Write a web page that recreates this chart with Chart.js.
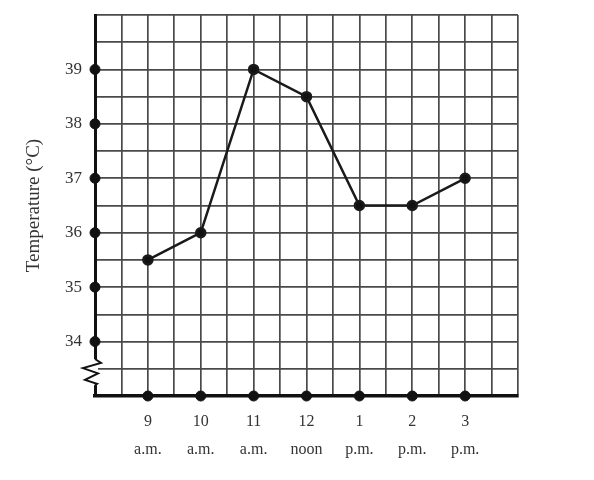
<!DOCTYPE html>
<html>
<head>
<meta charset="utf-8">
<script src="https://cdn.jsdelivr.net/npm/chart.js@4/dist/chart.umd.min.js"></script>
<style>
  html, body { margin: 0; padding: 0; background: #fff; }
  #wrap { width: 594px; height: 480px; }
</style>
</head>
<body>
<div id="wrap"><canvas id="grafica"></canvas></div>
<script>
// horas (24 h) y su etiqueta de dos lineas
const horas = [9, 10, 11, 12, 13, 14, 15];
const etiquetas = [['9', 'a.m.'], ['10', 'a.m.'], ['11', 'a.m.'], ['12', 'noon'], ['1', 'p.m.'], ['2', 'p.m.'], ['3', 'p.m.']];
const temperaturas = [35.5, 36, 39, 38.5, 36.5, 36.5, 37];
const marcasY = [34, 35, 36, 37, 38, 39];

const fuente = '"Liberation Serif", "DejaVu Serif", serif';

// simbolo de corte en el eje y
const corte = {
    id: 'corte',
    afterDatasetsDraw(chart) {
        const ctx = chart.ctx;
        const x0 = chart.scales.x.getPixelForValue(8);
        const y = chart.scales.y;
        const yA = y.getPixelForValue(33.68);
        const yB = y.getPixelForValue(33.2);
        ctx.save();
        ctx.fillStyle = '#fff';
        ctx.fillRect(x0 - 3, yA, 6, yB - yA);
        ctx.strokeStyle = '#111';
        ctx.lineWidth = 2;
        ctx.lineJoin = 'miter';
        ctx.beginPath();
        const h = yB - yA;
        ctx.moveTo(x0, yA);
        ctx.lineTo(x0 + 6, yA + h * 0.15);
        ctx.lineTo(x0 - 12, yA + h * 0.35);
        ctx.lineTo(x0 + 3, yA + h * 0.55);
        ctx.lineTo(x0 - 10, yA + h * 0.8);
        ctx.lineTo(x0 + 2, yA + h * 0.95);
        ctx.lineTo(x0, yB);
        ctx.stroke();
        ctx.restore();
    }
};

const data = {
    datasets: [{
        label: 'Temperatura',
        data: horas.map((h, i) => ({ x: h, y: temperaturas[i] })),
        borderColor: '#1a1a1a',
        backgroundColor: '#111',
        borderWidth: 2.5,
        pointRadius: 4.5,
        pointHoverRadius: 4.5,
        showLine: true,
        tension: 0
    }, {
        label: 'eje y',
        data: marcasY.map(v => ({ x: 8, y: v })),
        backgroundColor: '#111',
        borderColor: '#111',
        pointRadius: 5,
        showLine: false,
        clip: false
    }, {
        label: 'eje x',
        data: horas.map(h => ({ x: h, y: 33 })),
        backgroundColor: '#111',
        borderColor: '#111',
        pointRadius: 5,
        showLine: false,
        clip: false
    }]
};

const config = {
    type: 'scatter',
    data: data,
    plugins: [corte],
    options: {
        responsive: true,
        maintainAspectRatio: false,
        animation: false,
        layout: { padding: { left: 0, top: 15, right: 76, bottom: 0 } },
        plugins: {
            legend: { display: false },
            tooltip: { enabled: false }
        },
        scales: {
            x: {
                type: 'linear',
                min: 8,
                max: 16,
                afterFit: s => { s.height = 84; s.paddingLeft = 0; s.paddingRight = 0; },
                grid: { color: '#4a4a4a', lineWidth: 1.7, drawTicks: false },
                border: { color: '#111', width: 3.5 },
                ticks: {
                    stepSize: 0.5,
                    autoSkip: false,
                    maxRotation: 0,
                    padding: 12,
                    color: '#333',
                    font: { family: fuente, size: 16, lineHeight: 1.75 },
                    callback: v => {
                        const i = horas.indexOf(v);
                        return i >= 0 ? etiquetas[i] : '';
                    }
                }
            },
            y: {
                min: 33,
                max: 40,
                afterFit: s => { s.width = 95; s.paddingTop = 0; s.paddingBottom = 0; },
                grid: { color: '#4a4a4a', lineWidth: 1.7, drawTicks: false },
                border: { color: '#111', width: 3 },
                title: {
                    display: true,
                    text: 'Temperature (°C)',
                    color: '#333',
                    font: { family: fuente, size: 19 },
                    padding: { top: 23, bottom: 0 }
                },
                ticks: {
                    stepSize: 0.5,
                    autoSkip: false,
                    padding: 13,
                    color: '#333',
                    font: { family: fuente, size: 17 },
                    callback: v => marcasY.includes(v) ? String(v) : ''
                }
            }
        }
    }
};

const ctx = document.getElementById('grafica');
const grafica = new Chart(ctx, config);
</script>
</body>
</html>
